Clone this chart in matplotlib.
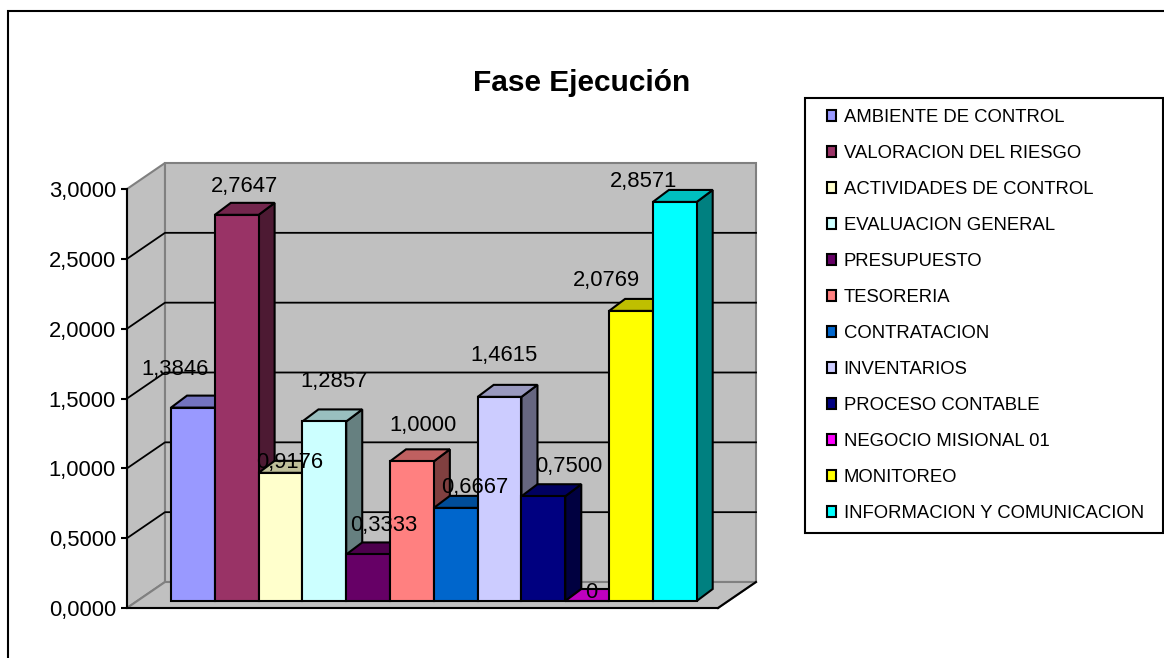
import matplotlib
matplotlib.use('Agg')
import matplotlib.pyplot as plt
import numpy as np
from matplotlib.patches import Polygon, Rectangle, Patch
from matplotlib.colors import to_rgb

plt.rcParams['font.family'] = ['Liberation Sans', 'DejaVu Sans']

categories = ['AMBIENTE DE CONTROL', 'VALORACION DEL RIESGO', 'ACTIVIDADES DE CONTROL',
              'EVALUACION GENERAL', 'PRESUPUESTO', 'TESORERIA', 'CONTRATACION', 'INVENTARIOS',
              'PROCESO CONTABLE', 'NEGOCIO MISIONAL 01', 'MONITOREO', 'INFORMACION Y COMUNICACION']
values = [1.3846, 2.7647, 0.9176, 1.2857, 0.3333, 1.0, 0.6667, 1.4615, 0.75, 0, 2.0769, 2.8571]
value_labels = ['1,3846', '2,7647', '0,9176', '1,2857', '0,3333', '1,0000',
                '0,6667', '1,4615', '0,7500', '0', '2,0769', '2,8571']
colors = ['#9999FF', '#993366', '#FFFFCC', '#CCFFFF', '#660066', '#FF8080',
          '#0066CC', '#CCCCFF', '#000080', '#FF00FF', '#FFFF00', '#00FFFF']
y_ticks = [0, 0.5, 1, 1.5, 2, 2.5, 3]
y_tick_labels = ['0,0000', '0,5000', '1,0000', '1,5000', '2,0000', '2,5000', '3,0000']

# label offsets from the bar top centre, in pixels
label_dx = [-18, 8, 9, 10, 16, 11, 19, 4, 25, 4, -25, -31]
label_dy = [38, 28, 10, 40, 29, 36, 20, 41, 30, 8, 30, 20]

W, H = 1164, 658
fig = plt.figure(figsize=(W / 100, H / 100), dpi=100)


def add_axes_px(left, right, top, bottom):
    return fig.add_axes([left / W, 1 - bottom / H, (right - left) / W, (bottom - top) / H])


# outer frame of the chart, right and bottom sides fall outside the picture
fig.add_artist(Rectangle((8 / W, -0.01), 1.1, 1.01 - 11 / H, transform=fig.transFigure,
                         fill=False, ec='black', lw=1.5))

# front plane: value axis and walls
ax = add_axes_px(127, 718, 189, 608)
ax.set_xlim(127, 718)
ax.set_ylim(0, 3)
ax.patch.set_visible(False)
wall_dx = 38
wall_dy = 26 * 3 / 419
grey = '#C0C0C0'
ax.add_patch(Polygon([(127, 0), (127, 3), (127 + wall_dx, 3 + wall_dy), (127 + wall_dx, wall_dy)],
                     fc=grey, ec='#808080', lw=1.5, clip_on=False, zorder=1))
ax.add_patch(Polygon([(127 + wall_dx, wall_dy), (127 + wall_dx, 3 + wall_dy),
                      (718 + wall_dx, 3 + wall_dy), (718 + wall_dx, wall_dy)],
                     fc=grey, ec='#808080', lw=1.5, clip_on=False, zorder=1))
ax.add_patch(Polygon([(127, 0), (127 + wall_dx, wall_dy), (718 + wall_dx, wall_dy), (718, 0)],
                     fc=grey, ec='#808080', lw=1.5, clip_on=False, zorder=1))
for t in y_ticks[1:-1]:
    ax.plot([127, 127 + wall_dx, 718 + wall_dx], [t, t + wall_dy, t + wall_dy],
            color='black', lw=1.3, clip_on=False, zorder=2)
ax.plot([718, 718 + wall_dx], [0, wall_dy], color='black', lw=1.5, clip_on=False, zorder=2)
ax.plot([127, 718], [0, 0], color='black', lw=1.5, clip_on=False, zorder=2)

for s in ['top', 'right', 'bottom']:
    ax.spines[s].set_visible(False)
ax.spines['left'].set_linewidth(1.5)
ax.spines['left'].set_zorder(3)
ax.set_xticks([])
ax.set_yticks(y_ticks)
ax.set_yticklabels(y_tick_labels, fontsize=15.8)
ax.tick_params(axis='y', length=4.5, width=1.5, pad=3.5)

# bar plane
ax2 = add_axes_px(171, 696.7, 601 - 3 * 139.67, 601)
ax2.set_xlim(-0.5, 11.5)
ax2.set_ylim(0, 3)
ax2.axis('off')
x = np.arange(len(values))
depth_x = 16 / (525.7 / 12)
depth_y = 12 / 139.67
for i, v in enumerate(values):
    c = np.array(to_rgb(colors[i]))
    ax2.add_patch(Polygon([(i + 0.5, 0), (i + 0.5 + depth_x, depth_y), (i + 0.5 + depth_x, v + depth_y), (i + 0.5, v)],
                          fc=c * 0.5, ec='black', lw=1.5, clip_on=False, zorder=3 + i))
    ax2.add_patch(Polygon([(i - 0.5, v), (i - 0.5 + depth_x, v + depth_y), (i + 0.5 + depth_x, v + depth_y), (i + 0.5, v)],
                          fc=c * 0.75, ec='black', lw=1.5, clip_on=False, zorder=3 + i))
    ax2.bar(x[i], v, width=1, color=colors[i], edgecolor='black', linewidth=1.5, clip_on=False, zorder=3 + i)
for i, v in enumerate(values):
    ax2.annotate(value_labels[i], (x[i], v), xytext=(label_dx[i] * 0.72, label_dy[i] * 0.72),
                 textcoords='offset points', ha='center', va='center', fontsize=15.8,
                 color='black', zorder=30, annotation_clip=False)

fig.suptitle('Fase Ejecución', x=582 / W, y=1 - 83 / H, ha='center', va='center',
             fontsize=21.5, fontweight='bold')

# legend box with the frame drawn apart, its padding is not symmetric
fig.add_artist(Rectangle((805 / W, 1 - 533 / H), 358 / W, 435 / H, transform=fig.transFigure,
                         fc='white', ec='black', lw=1.5))
handles = [Patch(fc=colors[i], ec='black', lw=1.5, label=categories[i]) for i in range(len(categories))]
fig.legend(handles=handles, loc='upper left', bbox_to_anchor=(827 / W, 1 - 109 / H),
           frameon=False, fontsize=13.3, handlelength=0.5, handleheight=0.5, handletextpad=0.4,
           labelspacing=1.03, borderpad=0, borderaxespad=0)

fig.savefig('out.png', dpi=100)
